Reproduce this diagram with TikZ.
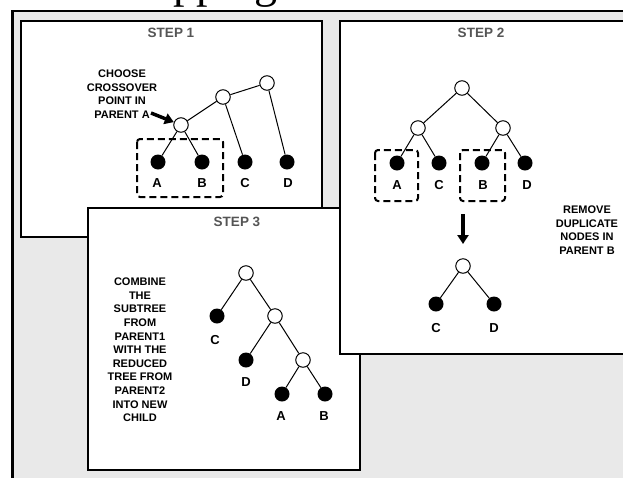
\documentclass[tikz,border=0pt]{standalone}
\usepackage{fontspec}
\setmainfont{Liberation Sans}
\newfontfamily\headserif{Liberation Serif}
\usetikzlibrary{arrows.meta}
\definecolor{panelgray}{HTML}{E9E9E9}
\definecolor{titlegray}{HTML}{555555}
\begin{document}
\begin{tikzpicture}[x=1pt,y=-1pt,
  panel/.style={draw=black, line width=1.6pt, fill=white},
  title/.style={font=\fontsize{13.5}{15}\selectfont\bfseries, text=titlegray},
  note/.style={font=\fontsize{11}{13.6}\selectfont\bfseries, align=center},
  leaflabel/.style={font=\fontsize{13}{15}\selectfont\bfseries},
  inner/.style={circle, draw=black, fill=white, line width=1pt, minimum size=14.5pt, inner sep=0pt},
  leaf/.style={circle, fill=black, minimum size=15pt, inner sep=0pt},
  edge/.style={line width=1pt},
  group/.style={draw=black, line width=2pt, dash pattern=on 7pt off 4pt, rounded corners=3pt},
  pointer/.style={line width=3.5pt, -{Triangle[length=9pt,width=11pt]}}
]
\useasboundingbox (0,0) rectangle (623,477);
\fill[white] (0,0) rectangle (623,477);

% heading: its baseline sits 3pt above the top edge, only descenders show
\node[font=\headserif\fontsize{46}{50}\selectfont, anchor=base west, inner sep=0pt] (heading) at (173pt,3pt) {pping};

% outer frame
\fill[panelgray] (12,11) rectangle (640,490);
\draw[line width=2pt] (12,11) -- (640,11);
\draw[line width=3pt] (12,10) -- (12,490);

% panels
\draw[panel] (21,21) rectangle (322,237);
\draw[panel] (88,208) rectangle (360,470);
\draw[panel] (340,21) rectangle (630,354);

% ---------------- step 1 ----------------
\node[title] (t1) at (171,33) {STEP 1};
\node[inner] (p1r) at (267,83) {};
\node[inner] (p1m) at (223,97) {};
\node[inner] (p1x) at (181,125) {};
\node[leaf] (p1a) at (158,162) {};
\node[leaf] (p1b) at (202,162) {};
\node[leaf] (p1c) at (245,162) {};
\node[leaf] (p1d) at (287,162) {};
\node[leaflabel] (l1a) at (157,183) {A};
\node[leaflabel] (l1b) at (202,183) {B};
\node[leaflabel] (l1c) at (245,183) {C};
\node[leaflabel] (l1d) at (288,183) {D};
\draw[edge] (p1r) -- (p1m) -- (p1x);
\draw[edge] (p1x) -- (p1a);
\draw[edge] (p1x) -- (p1b);
\draw[edge] (p1m) -- (p1c);
\draw[edge] (p1r) -- (p1d);
\draw[group] (137,139) rectangle (223,197);
\node[note] (n1) at (122,94) {CHOOSE\\CROSSOVER\\POINT IN\\PARENT A};
\coordinate (p1tail) at (151,113);
\draw[pointer] (p1tail) -- (p1x);

% ---------------- step 3 ----------------
\node[title] (t3) at (237,222) {STEP 3};
\node[inner] (p3r) at (246,273) {};
\node[leaf] (p3c) at (217,316) {};
\node[inner] (p3m) at (275,316) {};
\node[leaf] (p3d) at (246,360) {};
\node[inner] (p3n) at (303,360) {};
\node[leaf] (p3a) at (282,394) {};
\node[leaf] (p3b) at (325,394) {};
\draw[edge] (p3r) -- (p3c);
\draw[edge] (p3r) -- (p3m);
\draw[edge] (p3m) -- (p3d);
\draw[edge] (p3m) -- (p3n);
\draw[edge] (p3n) -- (p3a);
\draw[edge] (p3n) -- (p3b);
\node[leaflabel] (l3c) at (215,340) {C};
\node[leaflabel] (l3d) at (246,382) {D};
\node[leaflabel] (l3a) at (281,416) {A};
\node[leaflabel] (l3b) at (324,416) {B};
\node[note] (n3) at (140,350) {COMBINE\\THE\\SUBTREE\\FROM\\PARENT1\\WITH THE\\REDUCED\\TREE FROM\\PARENT2\\INTO NEW\\CHILD};

% ---------------- step 2 ----------------
\node[title] (t2) at (481,33) {STEP 2};
\node[inner] (p2r) at (462,88) {};
\node[inner] (p2l) at (418,128) {};
\node[inner] (p2q) at (503,128) {};
\node[leaf] (p2a) at (397,163) {};
\node[leaf] (p2c) at (439,163) {};
\node[leaf] (p2b) at (482,163) {};
\node[leaf] (p2d) at (525,163) {};
\draw[edge] (p2r) -- (p2l);
\draw[edge] (p2r) -- (p2q);
\draw[edge] (p2l) -- (p2a);
\draw[edge] (p2l) -- (p2c);
\draw[edge] (p2q) -- (p2b);
\draw[edge] (p2q) -- (p2d);
\node[leaflabel] (l2a) at (397,185) {A};
\node[leaflabel] (l2c) at (439,185) {C};
\node[leaflabel] (l2b) at (483,185) {B};
\node[leaflabel] (l2d) at (527,185) {D};
\draw[group] (375,150) rectangle (418,201);
\draw[group] (460,150) rectangle (505,201);
\coordinate (p2from) at (463,214);
\coordinate (p2to) at (463,244);
\draw[pointer] (p2from) -- (p2to);
\node[inner] (p2s) at (463,266) {};
\node[leaf] (p2sc) at (436,304) {};
\node[leaf] (p2sd) at (494,304) {};
\draw[edge] (p2s) -- (p2sc);
\draw[edge] (p2s) -- (p2sd);
\node[leaflabel] (l2sc) at (436,328) {C};
\node[leaflabel] (l2sd) at (494,328) {D};
\node[note] (n2) at (587,230) {REMOVE\\DUPLICATE\\NODES IN\\PARENT B};
\end{tikzpicture}
\end{document}
